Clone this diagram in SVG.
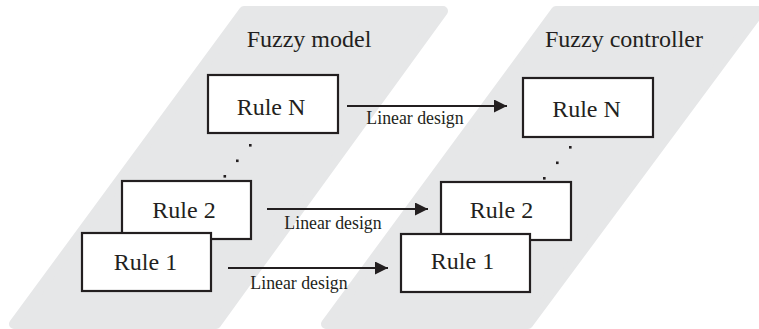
<svg xmlns="http://www.w3.org/2000/svg" width="759" height="329" viewBox="0 0 759 329">
<style>
.band{fill:#e6e7e8;stroke:#e6e7e8;stroke-width:10;stroke-linejoin:round}
.box{fill:#fff;stroke:#231f20;stroke-width:2.2}
.t{font-family:"Liberation Serif","Times New Roman",serif;fill:#231f20}
.big{font-size:24px}
.lab{font-size:17.8px}
.conn{stroke:#231f20;stroke-width:2;fill:none}
.dot{fill:#231f20}
</style>
<defs>
<marker id="ah" markerUnits="userSpaceOnUse" markerWidth="14" markerHeight="14" refX="13" refY="6.5" orient="auto">
<path d="M0,0 L13,6.5 L0,13 Z" fill="#231f20"/>
</marker>
</defs>
<g id="bands">
<path class="band" d="M244,11 L443,11 L216,324 L14,324 Z"/>
<path class="band" d="M556,11 L760,11 L528,324 L326,324 Z"/>
</g>
<g id="titles">
<text class="t big" x="309" y="47" text-anchor="middle">Fuzzy model</text>
<text class="t big" x="624" y="47" text-anchor="middle">Fuzzy controller</text>
</g>
<g id="model-ruleN">
<rect class="box" x="208" y="75" width="130" height="58"/>
<text class="t big" x="271" y="115" text-anchor="middle">Rule N</text>
</g>
<g id="model-dots">
<rect class="dot" x="249" y="144" width="2.6" height="2.6"/>
<rect class="dot" x="236" y="159.5" width="2.6" height="2.6"/>
<rect class="dot" x="223.5" y="175" width="2.6" height="2.6"/>
</g>
<g id="model-rule2">
<rect class="box" x="122" y="181" width="129" height="58"/>
<text class="t big" x="184" y="218" text-anchor="middle">Rule 2</text>
</g>
<g id="model-rule1">
<rect class="box" x="82" y="233" width="129" height="58"/>
<text class="t big" x="145.5" y="270" text-anchor="middle">Rule 1</text>
</g>
<g id="ctrl-ruleN">
<rect class="box" x="523" y="78" width="130" height="59"/>
<text class="t big" x="586.5" y="117" text-anchor="middle">Rule N</text>
</g>
<g id="ctrl-dots">
<rect class="dot" x="569" y="146" width="2.6" height="2.6"/>
<rect class="dot" x="556" y="161.5" width="2.6" height="2.6"/>
<rect class="dot" x="543" y="177" width="2.6" height="2.6"/>
</g>
<g id="ctrl-rule2">
<rect class="box" x="441" y="182" width="130" height="58"/>
<text class="t big" x="501.5" y="218" text-anchor="middle">Rule 2</text>
</g>
<g id="ctrl-rule1">
<rect class="box" x="401" y="234" width="129" height="58"/>
<text class="t big" x="462.5" y="269" text-anchor="middle">Rule 1</text>
</g>
<g id="connectors">
<line class="conn" x1="347" y1="106" x2="507" y2="106" marker-end="url(#ah)"/>
<line class="conn" x1="267" y1="209" x2="428" y2="209" marker-end="url(#ah)"/>
<line class="conn" x1="228" y1="268" x2="388" y2="268" marker-end="url(#ah)"/>
<text class="t lab" x="415" y="124" text-anchor="middle">Linear design</text>
<text class="t lab" x="333" y="229" text-anchor="middle">Linear design</text>
<text class="t lab" x="299" y="289" text-anchor="middle">Linear design</text>
</g>
</svg>
